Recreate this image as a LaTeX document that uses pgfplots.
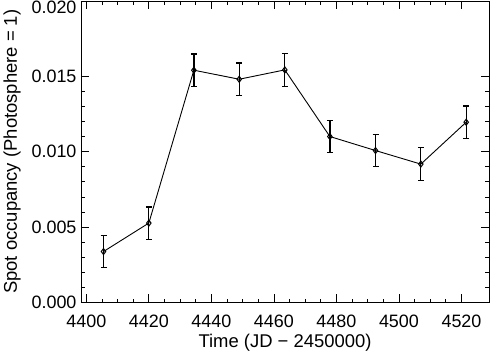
\documentclass[border=0pt]{standalone}
\usepackage{fontspec}
\setmainfont{Liberation Sans}
\usepackage{pgfplots}
\pgfplotsset{compat=1.18}
\begin{document}
\begin{tikzpicture}
  \path[use as bounding box] (-81bp,-49.5bp) rectangle (409bp,302.5bp);
  \begin{axis}[
    scale only axis,
    width=408bp, height=301.5bp,
    at={(0,0)}, anchor=south west,
    xmin=4398.3, xmax=4528.8,
    ymin=0, ymax=0.020,
    xtick={4400,4420,...,4520},
    ytick={0,0.005,0.010,0.015},
    extra y ticks={0.020},
    extra y tick style={yticklabel style={yshift=-6bp}},
    minor x tick num=3,
    minor y tick num=4,
    tick align=inside,
    major tick length=8bp,
    minor tick length=4bp,
    tick style={black, line width=0.8bp},
    axis line style={black, line width=0.9bp},
    /pgf/number format/assume math mode=true,
    tick label style={font=\fontsize{18}{21}\selectfont},
    label style={font=\fontsize{18.5}{22}\selectfont},
    xticklabel style={/pgf/number format/set thousands separator={}, yshift=-8.5bp},
    yticklabel style={/pgf/number format/fixed, /pgf/number format/fixed zerofill,
      /pgf/number format/precision=3, xshift=-1bp},
    scaled y ticks=false,
    xlabel={Time (JD − 2450000)},
    ylabel={Spot occupancy (Photosphere = 1)},
    xlabel style={at={(axis description cs:0.5,0)}, anchor=center, yshift=-40.5bp},
    ylabel style={at={(axis description cs:0,0.5)}, anchor=center, yshift=69bp},
    clip=false,
  ]
    \addplot[black, line width=0.9bp, mark=diamond, mark size=3bp,
      mark options={line width=1bp},
      error bars/.cd, y dir=both, y explicit,
      error bar style={line width=1.3bp}, error mark options={rotate=90, mark size=3bp, line width=1.3bp}]
      coordinates {
        (4405.5,0.00338) +- (0,0.00108)
        (4420.0,0.00527) +- (0,0.00107)
        (4434.4,0.01541) +- (0,0.00108)
        (4448.9,0.01481) +- (0,0.00108)
        (4463.5,0.01543) +- (0,0.00108)
        (4477.9,0.01101) +- (0,0.00107)
        (4492.5,0.01008) +- (0,0.00108)
        (4507.0,0.00918) +- (0,0.00108)
        (4521.5,0.01196) +- (0,0.00107)
      };
  \end{axis}
\end{tikzpicture}
\end{document}
